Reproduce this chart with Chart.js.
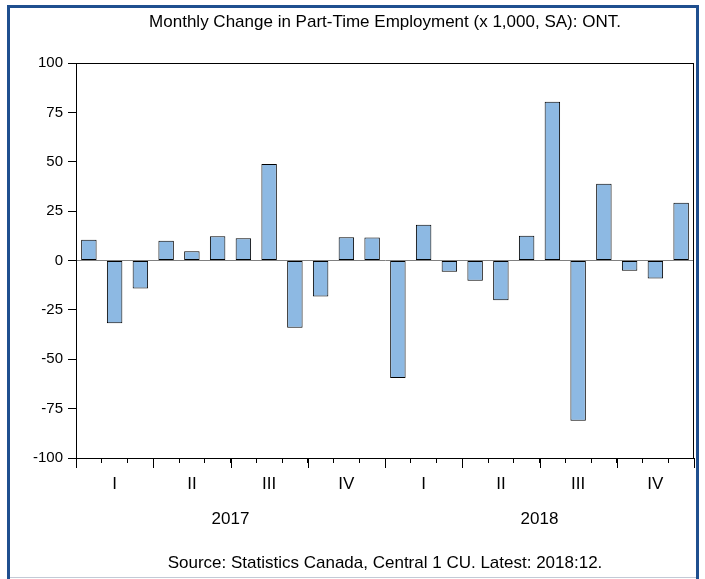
<!DOCTYPE html>
<html>
<head>
<meta charset="utf-8">
<script src="https://cdn.jsdelivr.net/npm/chart.js@4"></script>
<style>
  html, body { margin: 0; padding: 0; background: #fff; }
  canvas { display: block; }
</style>
</head>
<body>
<canvas id="ptChart" width="705" height="579"></canvas>
<script>
// ---- data ----
const months = [
  '2017-01', '2017-02', '2017-03', '2017-04', '2017-05', '2017-06',
  '2017-07', '2017-08', '2017-09', '2017-10', '2017-11', '2017-12',
  '2018-01', '2018-02', '2018-03', '2018-04', '2018-05', '2018-06',
  '2018-07', '2018-08', '2018-09', '2018-10', '2018-11', '2018-12'
];
const partTimeChange = [
  10.5, -31.8, -14.2, 10.0, 4.7, 12.3,
  11.3, 48.8, -34.1, -18.2, 11.8, 11.7,
  -59.5, 18.1, -5.7, -10.3, -20.1, 12.5,
  80.4, -81.1, 38.9, -5.2, -9.1, 29.2
];
const quarterLabels = ['I', 'II', 'III', 'IV'];
const years = ['2017', '2018'];
const yMin = -100, yMax = 100, yStep = 25;

const titleText = 'Monthly Change in Part-Time Employment (x 1,000, SA): ONT.';
const sourceText = 'Source: Statistics Canada, Central 1 CU. Latest: 2018:12.';

const fontFamily = '"Liberation Sans", Arial, sans-serif';
Chart.defaults.font.family = fontFamily;
Chart.defaults.font.size = 15;
Chart.defaults.color = '#000';

// frame, plot box, quarter ticks, year labels, title, source
const decorations = {
  id: 'decorations',
  afterDraw(chart) {
    const ctx = chart.ctx;
    const { left, right, top, bottom } = chart.chartArea;
    const xs = chart.scales.x;
    const slot = xs.getPixelForValue(1) - xs.getPixelForValue(0);

    ctx.save();
    // plot box
    ctx.strokeStyle = '#000';
    ctx.lineWidth = 1;
    ctx.strokeRect(left + 0.5, top + 0.5, right - left - 1, bottom - top);

    // longer ticks at quarter boundaries
    ctx.beginPath();
    for (let i = 0; i <= months.length; i += 3) {
      const x = Math.round(xs.getPixelForValue(0) - slot / 2 + i * slot) + 0.5;
      ctx.moveTo(x, bottom);
      ctx.lineTo(x, bottom + 10);
    }
    ctx.stroke();

    // year labels under each 12 months
    ctx.fillStyle = '#000';
    ctx.font = '17px ' + fontFamily;
    ctx.textAlign = 'center';
    ctx.textBaseline = 'middle';
    years.forEach((yr, k) => {
      const x = (xs.getPixelForValue(k * 12) + xs.getPixelForValue(k * 12 + 11)) / 2;
      ctx.fillText(yr, x, 519);
    });

    // title and source
    const cx = (left + right) / 2;
    ctx.fillText(titleText, cx, 22);
    ctx.fillText(sourceText, cx, 563);

    // outer frame
    ctx.strokeStyle = '#1f4f8f';
    ctx.lineWidth = 3;
    ctx.beginPath();
    ctx.moveTo(8.5, 579);
    ctx.lineTo(8.5, 6.5);
    ctx.lineTo(697.5, 6.5);
    ctx.lineTo(697.5, 579);
    ctx.stroke();
    ctx.strokeStyle = '#c3cad6';
    ctx.lineWidth = 1;
    ctx.beginPath();
    ctx.moveTo(10, 577.5);
    ctx.lineTo(696, 577.5);
    ctx.stroke();
    ctx.restore();
  }
};

new Chart(document.getElementById('ptChart'), {
  type: 'bar',
  data: {
    labels: months,
    datasets: [{
      data: partTimeChange,
      backgroundColor: '#8db9e3',
      borderColor: '#000',
      borderWidth: 1,
      borderSkipped: false,
      categoryPercentage: 1,
      barPercentage: 0.6
    }]
  },
  options: {
    responsive: false,
    animation: false,
    layout: { padding: { top: 63, right: 11, left: 0, bottom: 0 } },
    plugins: {
      legend: { display: false },
      title: { display: false },
      tooltip: { enabled: false }
    },
    scales: {
      x: {
        afterFit: s => { s.height = 121; },
        border: { color: '#000', width: 1 },
        grid: {
          display: true,
          drawOnChartArea: false,
          tickLength: 5,
          tickColor: '#000',
          offset: true
        },
        ticks: {
          autoSkip: false,
          maxRotation: 0,
          padding: 11,
          font: { size: 17 },
          callback: (v, i) => (i % 3 === 1 ? quarterLabels[Math.floor(i / 3) % 4] : '')
        }
      },
      y: {
        min: yMin,
        max: yMax,
        afterFit: s => { s.width = 76; },
        border: { color: '#000', width: 1 },
        grid: {
          drawOnChartArea: true,
          color: c => (c.tick && c.tick.value === 0 ? '#808080' : 'rgba(0,0,0,0)'),
          tickColor: '#000',
          tickLength: 8
        },
        ticks: {
          stepSize: yStep,
          padding: 5
        }
      }
    }
  },
  plugins: [decorations]
});
</script>
</body>
</html>
